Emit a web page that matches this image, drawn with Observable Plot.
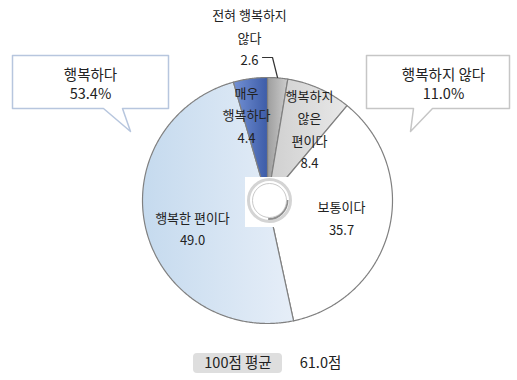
<!DOCTYPE html>
<html><head><meta charset="utf-8">
<script src="https://cdn.jsdelivr.net/npm/d3@7"></script>
<script src="https://cdn.jsdelivr.net/npm/@observablehq/plot@0.6"></script>
<style>body{margin:0;background:#fff;}</style>
</head><body><div id="chart"></div>
<script>
// ---- data ----
const categories = ["전혀 행복하지\n않다", "행복하지\n않은\n편이다", "보통이다", "행복한 편이다", "매우\n행복하다"];
const values = [2.6, 8.4, 35.7, 49.0, 4.4];
const groupLabels = ["행복하다", "행복하지 않다"];
const groupValues = [53.4, 11.0];
const meanLabel = "100점 평균";
const meanValue = 61.0;
const meanUnit = "점";

// ---- layout / style ----
const W = 517, H = 380;
const cx = 267, cy = 200, rx = 125, ry = 123;
const font = "'Noto Sans CJK KR', 'Noto Sans', sans-serif";
const sliceFill = ["url(#g0)", "url(#g1)", "#ffffff", "url(#g3)", "url(#g4)"];
const labelPos = [[249, 35], [309, 127], [341, 216], [192, 226.5], [246, 112.5]];
const gradients = {
  g0: ["#9e9e9e", "#cdcdcd"],
  g1: ["#cfcfcf", "#e8e8e8"],
  g3: ["#c5daee", "#e6eef8"],
  g4: ["#7391d4", "#3d5ca8"]
};

const arcs = d3.pie().sort(null).value(d => d)(values);
const slices = arcs.map((a, i) => {
  const pts = [{x: cx, y: cy}];
  const n = Math.max(2, Math.ceil((a.endAngle - a.startAngle) / (Math.PI / 360)));
  for (let k = 0; k <= n; k++) {
    const t = a.startAngle + (a.endAngle - a.startAngle) * k / n;
    pts.push({x: cx + rx * Math.sin(t), y: cy - ry * Math.cos(t)});
  }
  pts.push({x: cx, y: cy});
  return pts;
});

const leftBox = [[12,55],[168,55],[168,108],[122,108],[130,131],[103,108],[12,108],[12,55]].map(([x,y]) => ({x,y}));
const rightBox = [[366,55],[509,55],[509,108],[432,108],[410,131],[413,108],[366,108],[366,55]].map(([x,y]) => ({x,y}));
const leader = [[262,57],[272,57],[277,77]].map(([x,y]) => ({x,y}));

const labels = categories.map((c, i) => ({x: labelPos[i][0], y: labelPos[i][1], text: `${c}\n${values[i].toFixed(1)}`}));

const svg = Plot.plot({
  width: W, height: H,
  margin: 0,
  x: {domain: [0, W], axis: null},
  y: {domain: [H, 0], axis: null},
  style: {fontFamily: font, background: "#fff", overflow: "visible"},
  marks: [
    ...slices.map((pts, i) => Plot.line(pts, {x: "x", y: "y", fill: sliceFill[i], stroke: "#808080", strokeWidth: 1.2, strokeLinejoin: "round"})),
    Plot.rect([0], {x1: 245, x2: 291, y1: 177, y2: 227, fill: "#ffffff"}),
    Plot.dot([0], {x: 269, y: 200, r: 21, fill: "#ffffff", stroke: "#d4d4d4", strokeWidth: 3}),
    Plot.dot([0], {x: 268, y: 199.5, r: 19, fill: "none", stroke: "#8e8e8e", strokeWidth: 2, strokeDasharray: "30 90"}),
    Plot.dot([0], {x: 269, y: 200, r: 17, fill: "#ffffff", stroke: "#bbbbbb", strokeWidth: 0.8}),
    Plot.line(leader, {x: "x", y: "y", stroke: "#333", strokeWidth: 1.2}),
    Plot.text(labels, {x: "x", y: "y", text: "text", fontSize: 13, lineHeight: 1.73, fill: "#222", fontFamily: font, lineAnchor: "middle"}),
    Plot.line(leftBox, {x: "x", y: "y", fill: "#ffffff", stroke: "#b7c6de", strokeWidth: 1.5}),
    Plot.line(rightBox, {x: "x", y: "y", fill: "#ffffff", stroke: "#c6c6c6", strokeWidth: 1.5}),
    Plot.text([0], {x: 90, y: 82.5, text: () => `${groupLabels[0]}\n${groupValues[0].toFixed(1)}%`, fontSize: 14.5, lineHeight: 1.32, fill: "#222", fontFamily: font, lineAnchor: "middle"}),
    Plot.text([0], {x: 443, y: 82.5, text: () => `${groupLabels[1]}\n${groupValues[1].toFixed(1)}%`, fontSize: 14.5, lineHeight: 1.32, fill: "#222", fontFamily: font, lineAnchor: "middle"}),
    Plot.rect([0], {x1: 193, x2: 282, y1: 353, y2: 373, fill: "#dedede", rx: 4}),
    Plot.text([0], {x: 237.5, y: 363, text: () => meanLabel, fontSize: 14.5, fill: "#222", fontFamily: font}),
    Plot.text([0], {x: 320, y: 363, text: () => `${meanValue.toFixed(1)}${meanUnit}`, fontSize: 14.5, fill: "#222", fontFamily: font})
  ]
});

const defs = d3.select(svg).insert("defs", ":first-child");
for (const [id, [c0, c1]] of Object.entries(gradients)) {
  const g = defs.append("linearGradient").attr("id", id).attr("x1", 0).attr("x2", 1).attr("y1", 0).attr("y2", 0);
  g.append("stop").attr("offset", 0).attr("stop-color", c0);
  g.append("stop").attr("offset", 1).attr("stop-color", c1);
}
document.getElementById("chart").appendChild(svg);
</script>
</body></html>
